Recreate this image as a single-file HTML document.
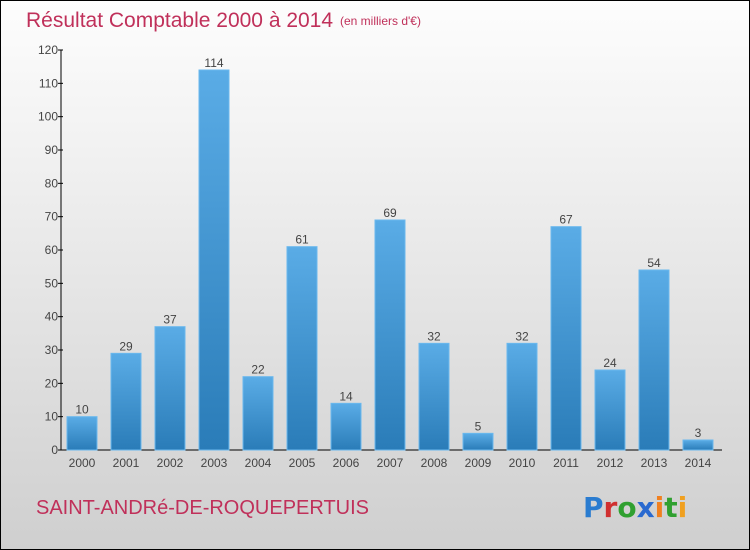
<!DOCTYPE html>
<html><head><meta charset="utf-8"><style>
body{margin:0}
#c{width:748px;height:548px;border:1px solid #000;background:linear-gradient(#fdfdfd,#f0f0f0 30%,#cfcfcf);position:relative;font-family:"Liberation Sans",sans-serif;overflow:hidden}
</style></head><body>
<div id="c">
<svg width="748" height="548">
<defs><linearGradient id="g" x1="0" y1="0" x2="0" y2="1"><stop offset="0" stop-color="#5aace6"/><stop offset="1" stop-color="#2a7cb8"/></linearGradient></defs>
<text x="25" y="26" font-size="21" fill="#c0305a">Résultat Comptable 2000 à 2014</text>
<text x="339" y="24" font-size="12" fill="#c0305a">(en milliers d'€)</text>
<g id="plot"></g>
<text x="35" y="513" font-size="20" fill="#c0305a">SAINT-ANDRé-DE-ROQUEPERTUIS</text>
<g font-size="28" font-weight="bold" font-family="'DejaVu Sans',sans-serif">
<text x="582" y="516"><tspan fill="#2a7cd0">P</tspan><tspan fill="#d03030">r</tspan><tspan fill="#30a030">o</tspan><tspan fill="#2a6ad0">x</tspan><tspan fill="#f08020">i</tspan><tspan fill="#30a030">t</tspan><tspan fill="#f0a020">i</tspan></text></g>
</svg></div>
<script>
const years=["2000","2001","2002","2003","2004","2005","2006","2007","2008","2009","2010","2011","2012","2013","2014"];
const values=[10,29,37,114,22,61,14,69,32,5,32,67,24,54,3];
const yTicks=[0,10,20,30,40,50,60,70,80,90,100,110,120];
const NS="http://www.w3.org/2000/svg",g=document.getElementById('plot');
const y=v=>449-v*400/120, x=i=>81+i*44;
function mk(t,a,txt){const e=document.createElementNS(NS,t);for(const k in a)e.setAttribute(k,a[k]);if(txt!==undefined)e.textContent=txt;g.appendChild(e);return e;}
let e=mk('line',{x1:60,y1:49,x2:60,y2:449,stroke:'#000'});


e=mk('line',{x1:60,y1:449,x2:721,y2:449,stroke:'#000'});


yTicks.forEach(t=>{
 let l=mk('line',{x1:57,y1:y(t),x2:62,y2:y(t),stroke:'#000'});
 
 
 let s=mk('text',{x:57,y:y(t)+4,'font-size':12,fill:'#444','text-anchor':'end'},t);
 
 
});
values.forEach((v,i)=>{
 let r=mk('rect',{x:x(i)-15,y:y(v),width:30,height:449-y(v),fill:'url(#g)',stroke:'#6ab8ee','stroke-width':1});
 
 
 let s=mk('text',{x:x(i),y:y(v)-3,'font-size':12,fill:'#444','text-anchor':'middle'},v);
 
 
 let c=mk('text',{x:x(i),y:466,'font-size':12,fill:'#444','text-anchor':'middle'},years[i]);
 
 
});
</script>
</body></html>
